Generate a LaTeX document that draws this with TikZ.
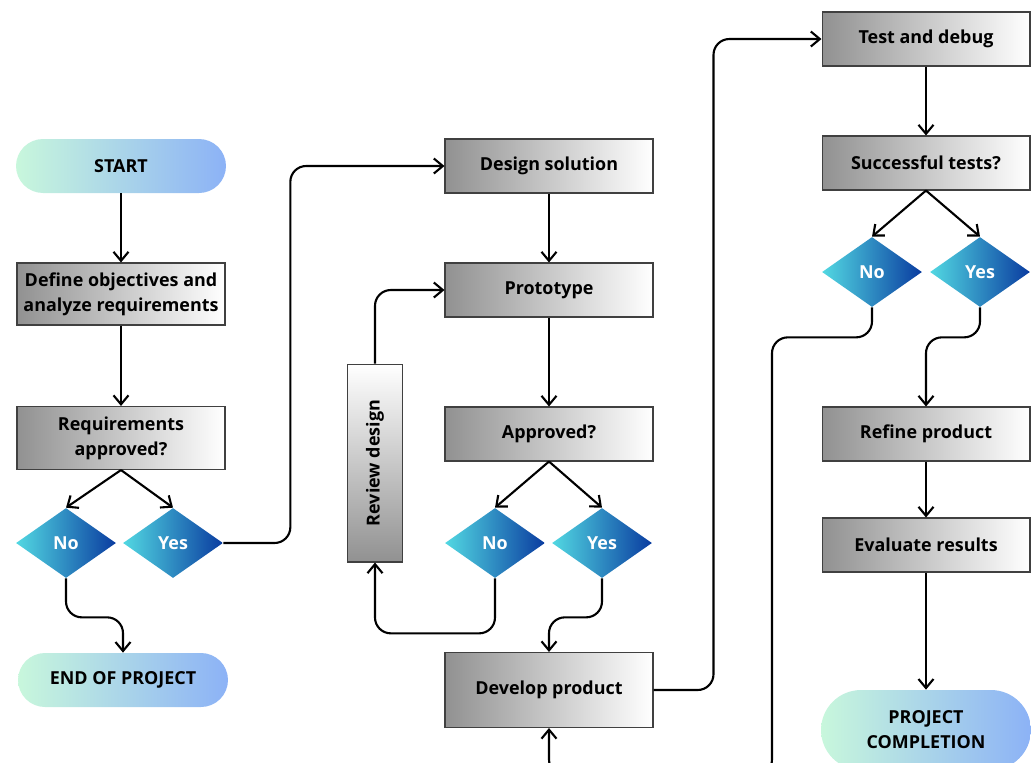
\documentclass[tikz,border=0pt]{standalone}
\usepackage{fontspec,graphicx}
\setmainfont{Open Sans}
\usetikzlibrary{arrows.meta,shapes.geometric}
\definecolor{boxL}{RGB}{145,145,145}
\definecolor{pillL}{RGB}{200,247,220}
\definecolor{pillR}{RGB}{140,178,246}
\definecolor{dmdL}{RGB}{82,216,226}
\definecolor{dmdR}{RGB}{10,60,160}

\tikzset{
  proc/.style={draw=black!75,line width=0.6pt,left color=boxL,right color=white,minimum width=4.16cm,minimum height=1.08cm,align=center,font=\bfseries\fontsize{10.2}{14.2}\selectfont,inner sep=2pt},
  term/.style={rounded corners=0.54cm,left color=pillL,right color=pillR,minimum width=4.2cm,minimum height=1.08cm,align=center,font=\bfseries\fontsize{10.2}{14.2}\selectfont},
  choice/.style={diamond,aspect=1.43,left color=dmdL,right color=dmdR,minimum width=2cm,minimum height=1.4cm,inner sep=0pt,text=white,font=\bfseries\fontsize{10.2}{12}\selectfont},
  link/.style={line width=1.2pt,-{Straight Barb[length=1.8mm,width=3mm]},rounded corners=9pt}
}

\begin{document}
\begin{tikzpicture}[x=0.02cm,y=-0.02cm]
\useasboundingbox (0,0) rectangle (1035,762);
\clip (0,0) rectangle (1035,762);
% left column
\node[term] (start) at (121,166) {START};
\node[proc,minimum height=1.24cm] (define) at (121,294) {Define objectives and\\analyze requirements};
\node[proc,minimum height=1.26cm] (reqok) at (121,438) {Requirements\\approved?};
\node[choice] (reqno) at (66,543) {No};
\node[choice] (reqyes) at (173,543) {Yes};
\node[term] (endproj) at (123,680) {END OF PROJECT};
% middle column
\node[proc] (design) at (549,166) {Design solution};
\node[proc] (proto) at (549,290) {Prototype};
\node[proc] (apprq) at (549,434) {Approved?};
\node[choice] (apprno) at (495,543) {No};
\node[choice] (appryes) at (602,543) {Yes};
\node[draw=black!75,line width=0.6pt,top color=white,bottom color=boxL,minimum width=1.1cm,minimum height=3.96cm,inner sep=0pt,font=\bfseries\fontsize{10.2}{12}\selectfont] (review) at (375,463) {\rotatebox{90}{Review design}};
\node[proc,minimum height=1.5cm] (develop) at (549,690) {Develop product};
% right column
\node[proc] (test) at (926,39) {Test and debug};
\node[proc] (testok) at (926,163) {Successful tests?};
\node[choice] (testno) at (872,272) {No};
\node[choice] (testyes) at (980,272) {Yes};
\node[proc] (refine) at (926,434) {Refine product};
\node[proc] (evaluate) at (926,545) {Evaluate results};
\node[term,minimum height=1.6cm,rounded corners=0.8cm] (complete) at (926,730) {PROJECT\\COMPLETION};
% connectors
\draw[link] (start) -- (define);
\draw[link] (define) -- (reqok);
\draw[link] (reqok.south) -- (reqno.north);
\draw[link] (reqok.south) -- (reqyes.north);
\draw[link] (reqno.south) -- ++(0,39) -| (endproj.north);
\draw[link] (reqyes.east) -- ++(67,0) |- (design.west);
\draw[link] (design) -- (proto);
\draw[link] (proto) -- (apprq);
\draw[link] (apprq.south) -- (apprno.north);
\draw[link] (apprq.south) -- (appryes.north);
\draw[link] (apprno.south) -- ++(0,55) -| (review.south);
\draw[link] (review.north) |- (proto.west);
\draw[link] (appryes.south) -- ++(0,39) -| (develop.north);
\draw[link] (develop.east) -- ++(60,0) |- (test.west);
\draw[link] (test) -- (testok);
\draw[link] (testok.south) -- (testno.north);
\draw[link] (testok.south) -- (testyes.north);
\draw[link] (testno.south) -- ++(0,30) -| ++(-100,438) -| (develop.south);
\draw[link] (testyes.south) -- ++(0,30) -| (refine.north);
\draw[link] (refine) -- (evaluate);
\draw[link] (evaluate) -- (complete);
\end{tikzpicture}
\end{document}
